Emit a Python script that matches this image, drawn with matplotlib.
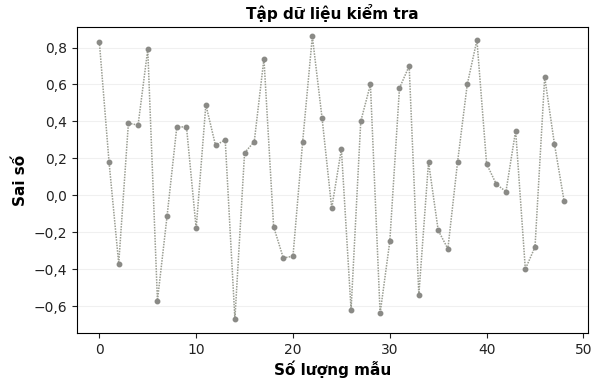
import matplotlib
matplotlib.use('Agg')
import matplotlib.pyplot as plt
from matplotlib.ticker import FuncFormatter

# sai số trên tập kiểm tra
sample_idx = list(range(49))
errors = [0.83, 0.18, -0.37, 0.39, 0.38, 0.79, -0.57, -0.11, 0.37, 0.37,
          -0.18, 0.49, 0.27, 0.30, -0.67, 0.23, 0.29, 0.74, -0.17, -0.34,
          -0.33, 0.29, 0.86, 0.42, -0.07, 0.25, -0.62, 0.40, 0.60, -0.64,
          -0.25, 0.58, 0.70, -0.54, 0.18, -0.19, -0.29, 0.18, 0.60, 0.84,
          0.17, 0.06, 0.02, 0.35, -0.40, -0.28, 0.64, 0.28, -0.03]
y_ticks = [-0.6, -0.4, -0.2, 0.0, 0.2, 0.4, 0.6, 0.8]
x_ticks = [0, 10, 20, 30, 40, 50]

fig = plt.figure(figsize=(5.93, 3.83), dpi=100)
ax = fig.add_axes([0.130, 0.131, 0.862, 0.798])

ax.plot(sample_idx, errors, color='#9a9d92', linestyle=(0, (1, 0.8)), linewidth=1.1,
        marker='o', markersize=3.2, markerfacecolor='#8a8a86', markeredgecolor='#8a8a86')

ax.set_xticks(x_ticks)
ax.set_yticks(y_ticks)
ax.yaxis.set_major_formatter(FuncFormatter(lambda v, p: f'{v:.1f}'.replace('.', ',').replace('-', '\u2212')))
ax.set_xlim(-2.3, 50.5)
ax.set_ylim(-0.745, 0.91)
ax.grid(axis='y', color='#f0f0f0', linewidth=0.8)
ax.set_axisbelow(True)
ax.tick_params(labelsize=10, colors='#222222')

ax.set_title('Tập dữ liệu kiểm tra', fontsize=11, fontweight='bold', pad=6)
ax.set_xlabel('Số lượng mẫu', fontsize=11, fontweight='bold', labelpad=3)
ax.set_ylabel('Sai số', fontsize=11, fontweight='bold')

fig.savefig('out.png', dpi=100)
